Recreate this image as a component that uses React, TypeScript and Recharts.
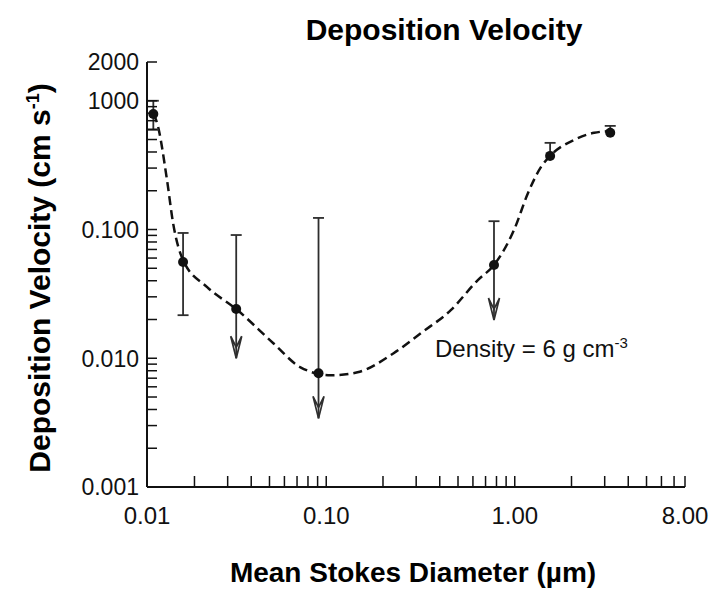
import React from 'react';
import { ComposedChart, Line, Scatter, XAxis, YAxis, ReferenceLine } from 'recharts';

const FONT = '"Liberation Sans", Arial, Helvetica, sans-serif';
const INK = '#111';
const BAR = '#2e2e2e';

// measured points: mean Stokes diameter (µm) vs deposition velocity (cm/s)
const diameters = [0.0121, 0.0174, 0.0333, 0.091, 0.776, 1.54, 3.21];
const velocities = [0.79, 0.0559, 0.0241, 0.00764, 0.053, 0.373, 0.564];
const upperErr = [1.0, 0.094, 0.0906, 0.123, 0.116, 0.471, 0.638];
const lowerErr = [0.595, 0.0216, 0.01, 0.00341, 0.0198, 0.373, 0.564];
// true = lower end drawn as an arrow (upper limit only)
const isLimit = [false, false, true, true, true, false, false];

// dashed fitted curve
const curveX = [0.0121, 0.01266, 0.0143, 0.0154, 0.0174, 0.02335, 0.0333, 0.0524, 0.073, 0.1053, 0.1466, 0.2278, 0.3172, 0.458, 0.637, 0.776, 0.991, 1.176, 1.379, 1.54, 2.066, 2.64, 3.1];
const curveY = [0.79, 0.674, 0.2427, 0.1123, 0.0579, 0.0357, 0.0241, 0.01308, 0.00851, 0.00737, 0.00778, 0.01094, 0.01565, 0.02364, 0.0405, 0.053, 0.0991, 0.1923, 0.3065, 0.373, 0.497, 0.564, 0.58];

// axes
const X_MIN = 0.0112;
const X_MAX = 8;
const xMajor = [X_MIN, 0.1, 1, 8];
const xLabels = ['0.01', '0.10', '1.00', '8.00'];
const xTicks = [X_MIN, 0.02, 0.03, 0.04, 0.05, 0.06, 0.07, 0.08, 0.09, 0.1, 0.2, 0.3, 0.4, 0.5, 0.6, 0.7, 0.8, 0.9, 1, 2, 3, 4, 5, 6, 7, 8];

const yMajor = [0.001, 0.01, 0.1, 1, 2];
const yLabels = ['0.001', '0.010', '0.100', '1000', '2000'];
const yTicks = [0.001, 0.002, 0.003, 0.004, 0.005, 0.006, 0.007, 0.008, 0.009, 0.01, 0.02, 0.03, 0.04, 0.05, 0.06, 0.07, 0.08, 0.09, 0.1, 0.2, 0.3, 0.4, 0.5, 0.6, 0.7, 0.8, 0.9, 1, 2];

const points = diameters.map((x, i) => ({ x, y: velocities[i] }));
const curve = curveX.map((x, i) => ({ x, y: curveY[i] }));
const topCaps = diameters.map((x, i) => ({ x, y: upperErr[i] }));
const lowCaps = diameters
  .map((x, i) => ({ x, y: lowerErr[i], show: !isLimit[i] && lowerErr[i] < velocities[i] }))
  .filter(d => d.show);
const arrowTips = diameters.map((x, i) => ({ x, y: lowerErr[i], show: isLimit[i] })).filter(d => d.show);

function XTick({ x, y, payload }: any) {
  const i = xMajor.indexOf(payload.value);
  return (
    <g>
      <line x1={x} y1={y} x2={x} y2={y - 11} stroke={INK} strokeWidth={1.5} />
      {i >= 0 && (
        <text x={x} y={y + 37} textAnchor="middle" fontSize={24} fontFamily={FONT} fill={INK}>
          {xLabels[i]}
        </text>
      )}
    </g>
  );
}

function YTick({ x, y, payload }: any) {
  const i = yMajor.indexOf(payload.value);
  return (
    <g>
      <line x1={x} y1={y} x2={x + 10} y2={y} stroke={INK} strokeWidth={1.5} />
      {i >= 0 && (
        <text x={x - 8} y={y} dy="0.36em" textAnchor="end" fontSize={23} fontFamily={FONT} fill={INK}>
          {yLabels[i]}
        </text>
      )}
    </g>
  );
}

const Cap = ({ cx, cy }: any) => (
  <line x1={cx - 5.5} y1={cy} x2={cx + 5.5} y2={cy} stroke={BAR} strokeWidth={1.8} />
);

const Arrow = ({ cx, cy }: any) => (
  <path
    d={`M${cx - 5.5},${cy - 22} L${cx},${cy} L${cx + 5.5},${cy - 22} L${cx},${cy - 11} Z`}
    fill="none"
    stroke={BAR}
    strokeWidth={1.7}
  />
);

const Dot = ({ cx, cy }: any) => <circle cx={cx} cy={cy} r={5} fill={INK} />;

export default function App() {
  return (
    <div style={{ position: 'fixed', left: 0, top: 0, width: 713, height: 592, background: '#fff' }}>
      <ComposedChart width={713} height={592} margin={{ top: 62, right: 28, bottom: 45, left: 0 }}>
        <XAxis
          type="number"
          dataKey="x"
          scale="log"
          domain={[X_MIN, X_MAX]}
          allowDataOverflow
          ticks={xTicks}
          interval={0}
          tick={<XTick />}
          tickLine={false}
          tickSize={0}
          tickMargin={0}
          axisLine={{ stroke: INK, strokeWidth: 2 }}
          height={60}
        />
        <YAxis
          type="number"
          scale="log"
          domain={[0.001, 2]}
          allowDataOverflow
          ticks={yTicks}
          interval={0}
          tick={<YTick />}
          tickLine={false}
          tickSize={0}
          tickMargin={0}
          axisLine={{ stroke: INK, strokeWidth: 2 }}
          width={147}
        />
        {diameters.map((x, i) => (
          <ReferenceLine
            key={'bar' + i}
            segment={[{ x, y: lowerErr[i] }, { x, y: upperErr[i] }]}
            stroke={BAR}
            strokeWidth={1.8}
          />
        ))}
        <Line
          data={curve}
          dataKey="y"
          type="monotone"
          stroke={INK}
          strokeWidth={2.5}
          strokeDasharray="9 5"
          dot={false}
          activeDot={false}
          isAnimationActive={false}
        />
        <Scatter data={topCaps} dataKey="y" shape={Cap} isAnimationActive={false} />
        <Scatter data={lowCaps} dataKey="y" shape={Cap} isAnimationActive={false} />
        <Scatter data={arrowTips} dataKey="y" shape={Arrow} isAnimationActive={false} />
        <Scatter data={points} dataKey="y" shape={Dot} isAnimationActive={false} />

        <text x={444} y={40} textAnchor="middle" fontSize={30} fontWeight="bold" fontFamily={FONT} fill="#000">
          Deposition Velocity
        </text>
        <text x={413} y={582} textAnchor="middle" fontSize={28} fontWeight="bold" fontFamily={FONT} fill="#000">
          Mean Stokes Diameter (µm)
        </text>
        <text
          x={50}
          y={278}
          transform="rotate(-90 50 278)"
          textAnchor="middle"
          fontSize={30}
          fontWeight="bold"
          fontFamily={FONT}
          fill="#000"
        >
          Deposition Velocity (cm s<tspan dy={-11} fontSize={18}>-1</tspan>
          <tspan dy={11}>)</tspan>
        </text>
        <text x={435} y={357} fontSize={24} fontFamily={FONT} fill={INK}>
          Density = 6 g cm<tspan dy={-9} fontSize={15}>-3</tspan>
        </text>
      </ComposedChart>
    </div>
  );
}
